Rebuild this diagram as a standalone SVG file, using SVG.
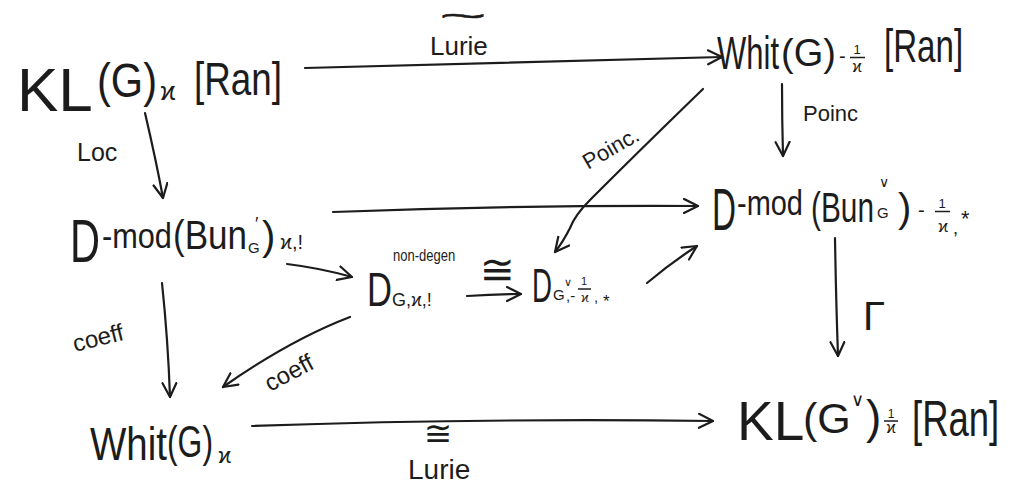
<svg xmlns="http://www.w3.org/2000/svg" width="1013" height="498" viewBox="0 0 1013 498">
<style>
text{font-family:"Liberation Sans","DejaVu Sans",sans-serif;fill:#1c1c1c}
.c path{fill:none;stroke:#1c1c1c;stroke-width:2.2;stroke-linecap:round;marker-end:url(#ah)}
.bar{stroke:#1c1c1c;stroke-width:1.5}
.lb{font-size:22px}
</style>
<defs>
<marker id="ah" markerUnits="userSpaceOnUse" markerWidth="18" markerHeight="18" refX="15" refY="8" orient="auto">
<path d="M1,1 L15,8 L1,15" fill="none" stroke="#1c1c1c" stroke-width="2.2" stroke-linecap="round" stroke-linejoin="round"/>
</marker>
</defs>
<rect width="1013" height="498" fill="#ffffff"/>

<g id="n-KL">
<text x="17" y="111" font-size="62">KL</text>
<text transform="translate(97,97) scale(0.866,1)" font-size="48">(G)</text>
<text x="160" y="100" font-size="26">ϰ</text>
<text transform="translate(194,95) scale(0.8,1)" font-size="46">[Ran]</text>
</g>

<g id="n-WhitTop">
<text transform="translate(717,69) scale(0.674,1)" font-size="46">Whit</text>
<text x="781" y="66" font-size="38">(G)</text>
<text x="839" y="63" font-size="20">-</text>
<text x="857" y="54" font-size="13" text-anchor="middle">1</text>
<line class="bar" x1="850" y1="57.5" x2="865" y2="57.5"/>
<text x="857" y="72" font-size="16" text-anchor="middle">ϰ</text>
<text transform="translate(884,62) scale(0.72,1)" font-size="46">[Ran]</text>
</g>

<g id="n-DmodG">
<text transform="translate(70,262) scale(0.67,1)" font-size="62">D</text>
<text transform="translate(102,248) scale(0.853,1)" font-size="36">-mod</text>
<text transform="translate(173,249) scale(0.876,1)" font-size="40">(Bun</text>
<text x="248" y="253" font-size="15">G</text>
<text x="255" y="230" font-size="18">′</text>
<text x="262" y="250" font-size="40">)</text>
<text x="280" y="249" font-size="20">ϰ,!</text>
</g>

<g id="n-DmodGv">
<text transform="translate(712,230) scale(0.554,1)" font-size="60">D</text>
<text transform="translate(737,215) scale(0.805,1)" font-size="36">-mod</text>
<text transform="translate(811,222) scale(0.71,1)" font-size="42">(Bun</text>
<text x="877" y="218" font-size="15">G</text>
<text x="879" y="187" font-size="14">∨</text>
<text x="898" y="222" font-size="40">)</text>
<text x="918" y="217" font-size="20">-</text>
<text x="942" y="208" font-size="13" text-anchor="middle">1</text>
<line class="bar" x1="935" y1="211.5" x2="950" y2="211.5"/>
<text x="943" y="232" font-size="17" text-anchor="middle">ϰ</text>
<text x="953" y="234" font-size="18">,</text>
<text x="961" y="226" font-size="22">*</text>
</g>

<g id="n-Dnondegen">
<text transform="translate(367,306) scale(0.72,1)" font-size="48">D</text>
<text transform="translate(393,261) scale(0.765,1)" font-size="17">non-degen</text>
<text x="392" y="306" font-size="18">G,ϰ,!</text>
</g>

<g id="n-DGv">
<text transform="translate(532,302) scale(0.577,1)" font-size="48">D</text>
<text x="553" y="300" font-size="15">G</text>
<text x="564" y="286" font-size="11">∨</text>
<text x="566" y="301" font-size="15">,-</text>
<text x="584" y="285" font-size="11" text-anchor="middle">1</text>
<line class="bar" x1="578" y1="289" x2="591" y2="289"/>
<text x="585" y="302" font-size="13" text-anchor="middle">ϰ</text>
<text x="594" y="302" font-size="15">,</text>
<text x="603" y="307" font-size="17">*</text>
</g>

<g id="n-WhitG">
<text transform="translate(90,460) scale(0.837,1)" font-size="46">Whit</text>
<text transform="translate(167,457) scale(0.724,1)" font-size="44">(G)</text>
<text x="218" y="463" font-size="22">ϰ</text>
</g>

<g id="n-KLGv">
<text x="737" y="440" font-size="55">KL</text>
<text x="803" y="433" font-size="43">(G</text>
<text x="851" y="406" font-size="18">∨</text>
<text x="866" y="433" font-size="46">)</text>
<text x="891" y="418" font-size="12" text-anchor="middle">1</text>
<line class="bar" x1="884" y1="421" x2="898" y2="421"/>
<text x="891" y="433" font-size="16" text-anchor="middle">ϰ</text>
<text transform="translate(912,436) scale(0.73,1)" font-size="50">[Ran]</text>
</g>

<g id="connectors" class="c">
<path d="M305,68 Q500,62 722,57"/>
<path d="M782,84 Q782,120 783,156"/>
<path d="M703,89 Q640,150 590,200 Q575,215 570,228 Q563,242 555,252"/>
<path d="M145,113 Q156,160 163,198"/>
<path d="M333,212 Q520,205 698,206"/>
<path d="M287,264 Q320,268 352,277"/>
<path d="M467,296 Q495,294 521,294"/>
<path d="M647,283 Q672,262 697,246"/>
<path d="M162,283 Q168,340 170,397"/>
<path d="M350,317 Q290,340 223,387"/>
<path d="M835,238 Q836,300 838,356"/>
<path d="M252,426 Q480,418 713,421"/>
</g>

<g id="labels">
<text transform="translate(463,25.5) scale(2.87,1)" font-size="28" text-anchor="middle" stroke="#1c1c1c" stroke-width="0.5">~</text>
<text x="430" y="55" font-size="26">Lurie</text>
<text x="803" y="121" class="lb">Poinc</text>
<text x="588" y="170" class="lb" transform="rotate(-30 588 170)">Poinc.</text>
<text x="77" y="161" font-size="25">Loc</text>
<text x="75" y="352" font-size="24" transform="rotate(-14 75 352)">coeff</text>
<text x="270" y="392" font-size="24" transform="rotate(-28 270 392)">coeff</text>
<text x="874" y="330" font-size="40" text-anchor="middle">Γ</text>
<text x="497" y="284" font-size="42" text-anchor="middle">≅</text>
<text x="438" y="445" font-size="34" text-anchor="middle">≅</text>
<text x="408" y="479" font-size="28">Lurie</text>
</g>
</svg>
